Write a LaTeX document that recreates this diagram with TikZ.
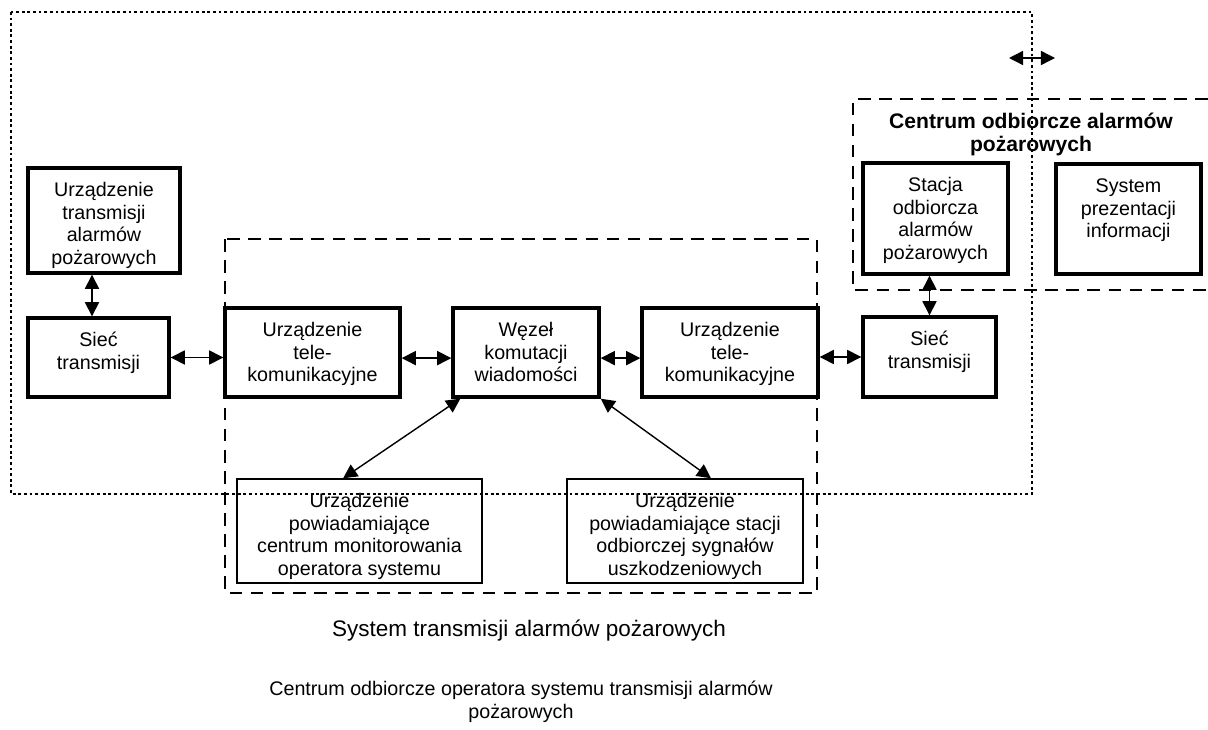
\documentclass[tikz,border=0pt]{standalone}
\usepackage{fontspec}
\setmainfont{Liberation Sans}
\usetikzlibrary{arrows.meta}
\newcommand{\wpis}[3]{\parbox[c][#2][t]{#1}{\centering\rule{0pt}{20pt}#3}}

\begin{document}
\begin{tikzpicture}[x=0.025cm,y=-0.025cm,
    blok/.style={draw,line width=2.4pt,inner sep=0pt,font=\fontsize{14}{16.3}\selectfont},
    blokc/.style={draw,line width=1pt,inner sep=0pt,font=\fontsize{14}{16.3}\selectfont},
    strz/.style={line width=1pt,{Triangle[length=10pt,width=10pt]}-{Triangle[length=10pt,width=10pt]}},
    kropki/.style={line width=1pt,dash pattern=on 2pt off 2pt},
    kreski/.style={line width=1pt,dash pattern=on 9pt off 6pt}]
        \useasboundingbox (0,0) rectangle (1208,729);

        \coordinate (K1) at (11,12);
        \coordinate (K2) at (1032,494);
        \coordinate (S1) at (1009,58);
        \coordinate (S2) at (1055,58);

        \draw[kropki] (K1) rectangle (K2);
        \draw[kreski] (225,239) rectangle (817,593);
        \draw[kreski] (1208,99) -- (853,99) -- (853,290) -- (1208,290);

        \node[blok]  (ut)     at (104,220.5)  {\wpis{3.8cm}{2.625cm}{Urządzenie\\transmisji\\alarmów\\pożarowych}};
        \node[blok]  (siecL)  at (98.5,357.5) {\wpis{3.525cm}{1.975cm}{Sieć\\transmisji}};
        \node[blok]  (tk1)    at (312.5,352.5) {\wpis{4.375cm}{2.225cm}{Urządzenie\\tele-\\komunikacyjne}};
        \node[blok]  (wezel)  at (526,352.5)  {\wpis{3.65cm}{2.225cm}{Węzeł\\komutacji\\wiadomości}};
        \node[blok]  (tk2)    at (730,352.5)  {\wpis{4.4cm}{2.225cm}{Urządzenie\\tele-\\komunikacyjne}};
        \node[blok]  (siecR)  at (929.5,357)  {\wpis{3.325cm}{2cm}{Sieć\\transmisji}};
        \node[blok]  (stacja) at (935.5,218.5) {\wpis{3.625cm}{2.775cm}{Stacja\\odbiorcza\\alarmów\\pożarowych}};
        \node[blok]  (prez)   at (1128.5,219) {\wpis{3.625cm}{2.75cm}{System\\prezentacji\\informacji}};
        \node[blokc] (powCM)  at (359.5,531)  {\wpis{6.125cm}{2.6cm}{Urządzenie\\powiadamiające\\centrum monitorowania\\operatora systemu}};
        \node[blokc] (powSt)  at (685,531)    {\wpis{5.9cm}{2.6cm}{Urządzenie\\powiadamiające stacji\\odbiorczej sygnałów\\uszkodzeniowych}};

        \node[font=\fontsize{15}{16.4}\selectfont\bfseries,align=center] (tytul) at (1031,134) {Centrum odbiorcze alarmów\\pożarowych};
        \node[font=\fontsize{16}{19}\selectfont,anchor=base] (podpis1) at (529,636) {System transmisji alarmów pożarowych};
        \node[font=\fontsize{14}{16.3}\selectfont,align=center] (podpis2) at (521,702) {Centrum odbiorcze operatora systemu transmisji alarmów\\pożarowych};

        \coordinate (a1) at ([xshift=-0.3cm]ut.south);
        \coordinate (a2) at ([yshift=-0.14cm]tk1.east);
        \coordinate (a3) at ([yshift=-0.14cm]wezel.east);

        \draw[strz] (a1) -- (a1 |- siecL.north);
        \draw[strz] (siecL.east) -- (siecL.east -| tk1.west);
        \draw[strz] (a2) -- (a2 -| wezel.west);
        \draw[strz] (a3) -- (a3 -| tk2.west);
        \draw[strz] (siecR.west -| tk2.east) -- (siecR.west);
        \draw[strz] (siecR.north |- stacja.south) -- (siecR.north);
        \draw[strz] ([xshift=0.225cm]wezel.south west) -- ([xshift=-0.41cm]powCM.north);
        \draw[strz] (wezel.south east) -- ([xshift=0.65cm]powSt.north);
        \draw[strz] (S1) -- (S2);
\end{tikzpicture}
\end{document}
